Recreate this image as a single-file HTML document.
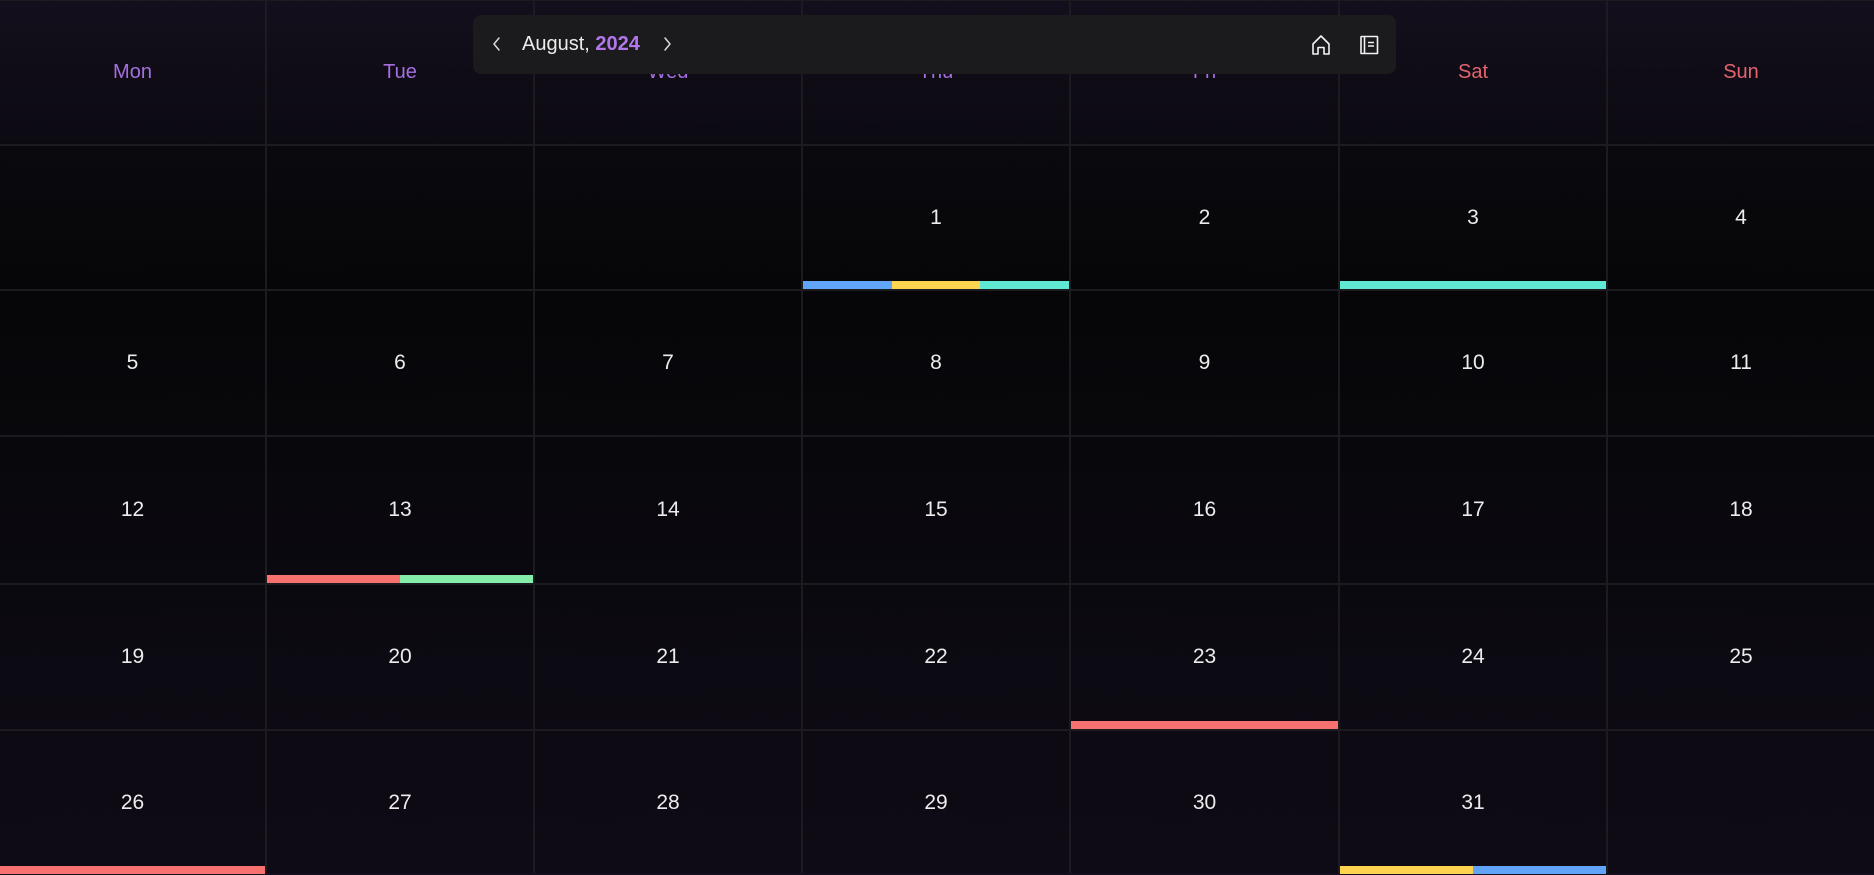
<!DOCTYPE html>
<html>
<head>
<meta charset="utf-8">
<style>
  html,body{margin:0;padding:0;}
  body{
    width:1874px;height:873px;overflow:hidden;position:relative;
    font-family:"Liberation Sans",sans-serif;
    background:linear-gradient(to bottom,#130f1c 0px,#0c0a12 140px,#0a090e 148px,#060608 290px,#08070b 440px,#0b0910 585px,#0d0a13 730px,#0f0b16 873px);
  }
  .vl{position:absolute;top:0;width:2px;height:873px;background:#1c1b20;}
  .hl{position:absolute;left:0;width:1874px;height:2px;background:#1c1b20;}
  .hd{position:absolute;top:0;height:144px;display:flex;align-items:center;justify-content:center;font-size:20px;color:#a56fe0;}
  .hd.we{color:#e3646d;}
  .n{position:absolute;display:flex;align-items:center;justify-content:center;font-size:21px;color:#ececec;}
  .bar{position:absolute;height:8px;display:flex;}
  .bar div{flex:1;height:100%;}
  .toolbar{position:absolute;left:473px;top:15px;width:923px;height:59px;background:#1b1b1d;border-radius:8px;}
  .title{position:absolute;left:522px;top:32px;font-size:20px;color:#ececec;line-height:24px;white-space:nowrap;}
  .title b{color:#b377ec;font-weight:bold;}
</style>
</head>
<body>
<!-- top line -->
<div class="hl" style="top:0;height:1px;"></div>
<!-- vertical lines -->
<div class="vl" style="left:265px"></div>
<div class="vl" style="left:533px"></div>
<div class="vl" style="left:801px"></div>
<div class="vl" style="left:1069px"></div>
<div class="vl" style="left:1338px"></div>
<div class="vl" style="left:1606px"></div>
<!-- horizontal lines -->
<div class="hl" style="top:144px"></div>
<div class="hl" style="top:289px"></div>
<div class="hl" style="top:435px"></div>
<div class="hl" style="top:583px"></div>
<div class="hl" style="top:729px"></div>

<!-- headers -->
<div class="hd" style="left:0;width:265px">Mon</div>
<div class="hd" style="left:267px;width:266px">Tue</div>
<div class="hd" style="left:535px;width:266px">Wed</div>
<div class="hd" style="left:803px;width:266px">Thu</div>
<div class="hd" style="left:1071px;width:267px">Fri</div>
<div class="hd we" style="left:1340px;width:266px">Sat</div>
<div class="hd we" style="left:1608px;width:266px">Sun</div>

<!-- row 1 -->
<div class="n" style="left:803px;width:266px;top:146px;height:143px">1</div>
<div class="n" style="left:1071px;width:267px;top:146px;height:143px">2</div>
<div class="n" style="left:1340px;width:266px;top:146px;height:143px">3</div>
<div class="n" style="left:1608px;width:266px;top:146px;height:143px">4</div>
<!-- row 2 -->
<div class="n" style="left:0;width:265px;top:291px;height:144px">5</div>
<div class="n" style="left:267px;width:266px;top:291px;height:144px">6</div>
<div class="n" style="left:535px;width:266px;top:291px;height:144px">7</div>
<div class="n" style="left:803px;width:266px;top:291px;height:144px">8</div>
<div class="n" style="left:1071px;width:267px;top:291px;height:144px">9</div>
<div class="n" style="left:1340px;width:266px;top:291px;height:144px">10</div>
<div class="n" style="left:1608px;width:266px;top:291px;height:144px">11</div>
<!-- row 3 -->
<div class="n" style="left:0;width:265px;top:437px;height:146px">12</div>
<div class="n" style="left:267px;width:266px;top:437px;height:146px">13</div>
<div class="n" style="left:535px;width:266px;top:437px;height:146px">14</div>
<div class="n" style="left:803px;width:266px;top:437px;height:146px">15</div>
<div class="n" style="left:1071px;width:267px;top:437px;height:146px">16</div>
<div class="n" style="left:1340px;width:266px;top:437px;height:146px">17</div>
<div class="n" style="left:1608px;width:266px;top:437px;height:146px">18</div>
<!-- row 4 -->
<div class="n" style="left:0;width:265px;top:585px;height:144px">19</div>
<div class="n" style="left:267px;width:266px;top:585px;height:144px">20</div>
<div class="n" style="left:535px;width:266px;top:585px;height:144px">21</div>
<div class="n" style="left:803px;width:266px;top:585px;height:144px">22</div>
<div class="n" style="left:1071px;width:267px;top:585px;height:144px">23</div>
<div class="n" style="left:1340px;width:266px;top:585px;height:144px">24</div>
<div class="n" style="left:1608px;width:266px;top:585px;height:144px">25</div>
<!-- row 5 -->
<div class="n" style="left:0;width:265px;top:731px;height:144px">26</div>
<div class="n" style="left:267px;width:266px;top:731px;height:144px">27</div>
<div class="n" style="left:535px;width:266px;top:731px;height:144px">28</div>
<div class="n" style="left:803px;width:266px;top:731px;height:144px">29</div>
<div class="n" style="left:1071px;width:267px;top:731px;height:144px">30</div>
<div class="n" style="left:1340px;width:266px;top:731px;height:144px">31</div>

<!-- bars -->
<div class="bar" style="left:803px;width:266px;top:281px"><div style="background:#60a5fa"></div><div style="background:#fdd34f"></div><div style="background:#5fe9d5"></div></div>
<div class="bar" style="left:1340px;width:266px;top:281px"><div style="background:#5fe9d5"></div></div>
<div class="bar" style="left:267px;width:266px;top:575px"><div style="background:#f87171"></div><div style="background:#84eda9"></div></div>
<div class="bar" style="left:1071px;width:267px;top:721px"><div style="background:#f87171"></div></div>
<div class="bar" style="left:0;width:265px;top:866px"><div style="background:#f87171"></div></div>
<div class="bar" style="left:1340px;width:266px;top:866px"><div style="background:#fdd34f"></div><div style="background:#60a5fa"></div></div>

<!-- toolbar -->
<div class="toolbar"></div>
<svg style="position:absolute;left:0;top:0" width="1874" height="100">
  <path d="M499 38 L494 44 L499 50" fill="none" stroke="#d8d8d8" stroke-width="1.5" stroke-linecap="round" stroke-linejoin="round"/>
  <path d="M665 38 L670 44 L665 50" fill="none" stroke="#d8d8d8" stroke-width="1.5" stroke-linecap="round" stroke-linejoin="round"/>
  <!-- home -->
  <path d="M1313 44 L1321 36 L1329 44 L1329 54 L1324 54 L1324 47.5 L1318 47.5 L1318 54 L1313 54 Z" fill="none" stroke="#f2f2f2" stroke-width="1.6" stroke-linejoin="round"/>
  <!-- book -->
  <rect x="1361" y="36.5" width="16.5" height="17" fill="none" stroke="#f2f2f2" stroke-width="1.6" rx="0.5"/>
  <line x1="1364.5" y1="36.5" x2="1364.5" y2="53.5" stroke="#f2f2f2" stroke-width="1.6"/>
  <line x1="1368" y1="42.5" x2="1374" y2="42.5" stroke="#f2f2f2" stroke-width="1.5"/>
  <line x1="1368" y1="46" x2="1374" y2="46" stroke="#f2f2f2" stroke-width="1.5"/>
</svg>
<div class="title">August, <b>2024</b></div>
</body>
</html>
